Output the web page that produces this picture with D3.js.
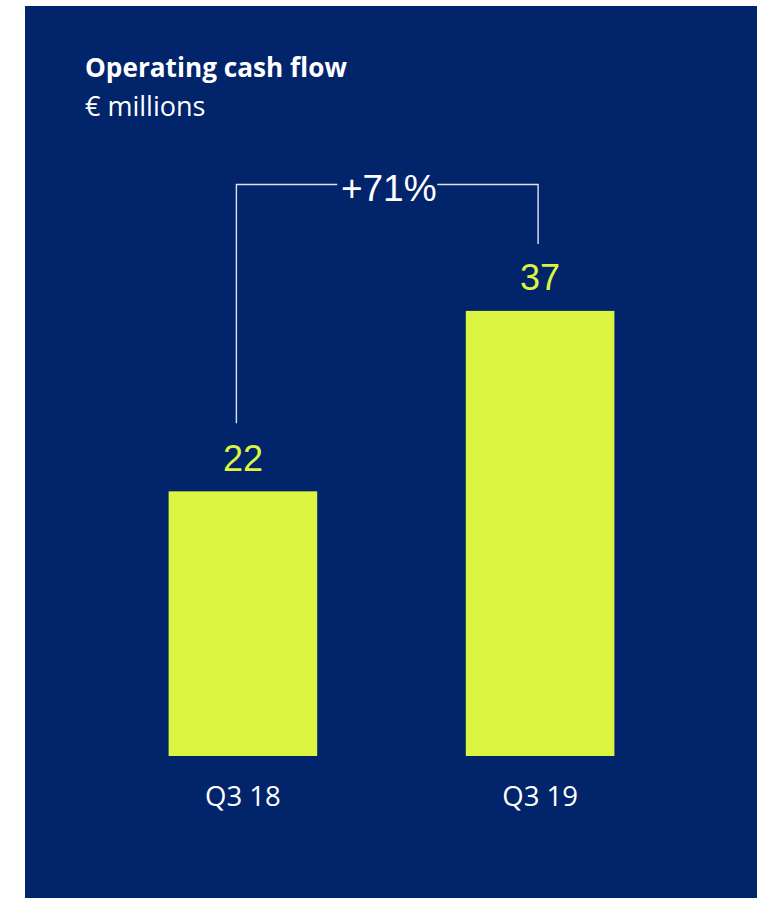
<!DOCTYPE html>
<html>
<head>
<meta charset="utf-8">
<script src="https://cdn.jsdelivr.net/npm/d3@7"></script>
<style>
  html, body { margin: 0; padding: 0; background: #ffffff; }
  svg { display: block; }
</style>
</head>
<body>
<svg id="chart" width="769" height="899"></svg>
<script>
// Operating cash flow, € millions
const categories = ["Q3 18", "Q3 19"];
const values = [22, 37];
const changeLabel = "+71%";
const title = "Operating cash flow";
const subtitle = "€ millions";

const W = 769, H = 899;
const panel = { x: 25, y: 6, w: 732, h: 892 };
const bg = "#02246a";
const lime = "#dcf442";
const lineColor = "#dfe3ee";

const svg = d3.select("#chart");

svg.append("rect")
  .attr("x", panel.x).attr("y", panel.y)
  .attr("width", panel.w).attr("height", panel.h)
  .attr("fill", bg);

// Title block
svg.append("text")
  .attr("x", 85).attr("y", 77)
  .attr("fill", "#ffffff")
  .attr("font-family", "'Open Sans', sans-serif")
  .attr("font-weight", 700)
  .attr("font-size", 26.2)
  .text(title);

svg.append("text")
  .attr("x", 85).attr("y", 116)
  .attr("fill", "#ffffff")
  .attr("font-family", "'Open Sans', sans-serif")
  .attr("font-size", 27)
  .text(subtitle);

// Scales
const x = d3.scaleBand()
  .domain(categories)
  .range([20, 763])
  .paddingInner(0.5)
  .paddingOuter(0.5);

const y = d3.scaleLinear()
  .domain([0, 37])
  .range([756, 756 - 37 * 12.03]);

// Bars
svg.selectAll("rect.bar")
  .data(values)
  .join("rect")
  .attr("class", "bar")
  .attr("x", (d, i) => x(categories[i]))
  .attr("y", d => y(d))
  .attr("width", x.bandwidth())
  .attr("height", d => y(0) - y(d))
  .attr("fill", lime);

// Value labels
svg.selectAll("text.value")
  .data(values)
  .join("text")
  .attr("class", "value")
  .attr("x", (d, i) => x(categories[i]) + x.bandwidth() / 2)
  .attr("y", d => y(d) - 20.5)
  .attr("text-anchor", "middle")
  .attr("fill", lime)
  .attr("font-family", "'Liberation Sans', Arial, sans-serif")
  .attr("font-size", 36)
  .text(d => d);

// Category axis (labels only)
const xAxis = svg.append("g")
  .attr("transform", `translate(0,${y(0)})`)
  .call(d3.axisBottom(x).tickSize(0).tickPadding(0));
xAxis.select(".domain").remove();
xAxis.selectAll("text")
  .attr("dy", null)
  .attr("y", 50)
  .attr("fill", "#ffffff")
  .attr("font-family", "'Open Sans', sans-serif")
  .attr("font-size", 27.5);

// Growth bracket between the two bars
const bracketY = 184.5;
const leftX = x(categories[0]) + x.bandwidth() / 2 - 6.5;
const rightX = x(categories[1]) + x.bandwidth() / 2 - 2;
const midX = (leftX + rightX) / 2;
const gapHalf = 50;

const bracket = d3.path();
bracket.moveTo(leftX, y(values[0]) - 68);
bracket.lineTo(leftX, bracketY);
bracket.lineTo(midX - gapHalf, bracketY);
bracket.moveTo(midX + gapHalf, bracketY);
bracket.lineTo(rightX, bracketY);
bracket.lineTo(rightX, y(values[1]) - 67);

svg.append("path")
  .attr("d", bracket.toString())
  .attr("fill", "none")
  .attr("stroke", lineColor)
  .attr("stroke-width", 1.4);

svg.append("text")
  .attr("x", midX + 1.5)
  .attr("y", 200.5)
  .attr("text-anchor", "middle")
  .attr("fill", "#ffffff")
  .attr("font-family", "'Liberation Sans', Arial, sans-serif")
  .attr("font-size", 37)
  .text(changeLabel);
</script>
</body>
</html>
